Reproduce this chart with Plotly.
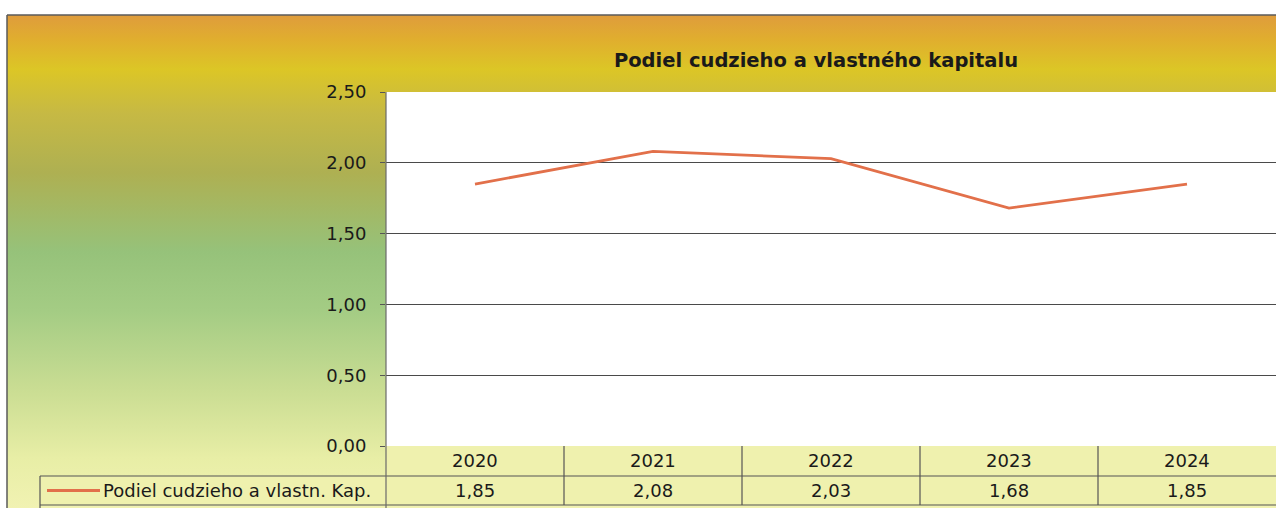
import base64
import plotly.graph_objects as go

# data
years = ["2020", "2021", "2022", "2023", "2024"]
ratio = [1.85, 2.08, 2.03, 1.68, 1.85]
series_name = "Podiel cudzieho a vlastn. Kap."
title_text = "Podiel cudzieho a vlastného kapitalu"
y_ticks = [0, 0.5, 1.0, 1.5, 2.0, 2.5]

W, H = 1276, 508
L, R, T, B = 386, 0, 92, 62
PW, PH = W - L - R, H - T - B


def px(x):
    return (x - L) / PW


def py(y):
    return (H - B - y) / PH


LINE_COL = "#E2704A"
GRID_COL = "#4a4a4a"
TABLE_BG = "#EFF1AE"
FONT = "DejaVu Sans, Verdana, sans-serif"

# background gradient of the chart area (Excel style)
svg = """<svg xmlns='http://www.w3.org/2000/svg' width='100' height='100' preserveAspectRatio='none'>
<defs><linearGradient id='g' x1='0' y1='0' x2='0' y2='1'>
<stop offset='0' stop-color='#DF9C3C'/>
<stop offset='0.05' stop-color='#E0AE2E'/>
<stop offset='0.11' stop-color='#DCC626'/>
<stop offset='0.20' stop-color='#C6B944'/>
<stop offset='0.32' stop-color='#AEB052'/>
<stop offset='0.48' stop-color='#96C27A'/>
<stop offset='0.60' stop-color='#A4CC84'/>
<stop offset='0.77' stop-color='#CCDE94'/>
<stop offset='0.90' stop-color='#E8EEA6'/>
<stop offset='1' stop-color='#F1F2B2'/>
</linearGradient></defs>
<rect width='100' height='100' fill='url(#g)'/></svg>"""
bg_src = "data:image/svg+xml;base64," + base64.b64encode(svg.encode()).decode()

fig = go.Figure()

fig.add_trace(go.Scatter(
    x=list(range(len(years))),
    y=ratio,
    mode="lines",
    name=series_name,
    line=dict(color=LINE_COL, width=2.8),
    showlegend=False,
    cliponaxis=False,
))

shapes = []
annotations = []

# white plot area on top of the gradient
shapes.append(dict(type="rect", xref="paper", yref="paper", layer="below",
                   x0=0, x1=1, y0=0, y1=1,
                   fillcolor="white", line=dict(width=0)))

# outer frame
shapes.append(dict(type="line", xref="paper", yref="paper",
                   x0=px(7), x1=px(W), y0=py(15), y1=py(15),
                   line=dict(color="#5a5a5a", width=1.5)))
shapes.append(dict(type="line", xref="paper", yref="paper",
                   x0=px(7), x1=px(7), y0=py(15), y1=py(H),
                   line=dict(color="#5a5a5a", width=1.5)))

# data table below the plot
row1, row2 = py(476), py(505)
shapes.append(dict(type="rect", xref="paper", yref="paper", layer="below",
                   x0=0, x1=1, y0=row2, y1=0,
                   fillcolor=TABLE_BG, line=dict(width=0)))
shapes.append(dict(type="rect", xref="paper", yref="paper", layer="below",
                   x0=px(40), x1=0, y0=row2, y1=row1,
                   fillcolor=TABLE_BG, line=dict(width=0)))
for y0 in (row1, row2):
    shapes.append(dict(type="line", xref="paper", yref="paper",
                       x0=px(40), x1=1, y0=y0, y1=y0,
                       line=dict(color="#555555", width=1.2)))
shapes.append(dict(type="line", xref="paper", yref="paper",
                   x0=px(40), x1=px(40), y0=row1, y1=py(H),
                   line=dict(color="#555555", width=1.2)))
shapes.append(dict(type="line", xref="paper", yref="paper",
                   x0=0, x1=0, y0=1, y1=py(H),
                   line=dict(color="#6a6a6a", width=1.2)))
for i in range(len(years) - 1):
    shapes.append(dict(type="line", xref="x", yref="paper",
                       x0=i + 0.5, x1=i + 0.5, y0=0, y1=row2,
                       line=dict(color="#555555", width=1.2)))

for i, (yr, v) in enumerate(zip(years, ratio)):
    annotations.append(dict(xref="x", yref="paper", x=i, y=(0 + row1) / 2,
                            text=yr, showarrow=False, yanchor="middle",
                            font=dict(family=FONT, size=18, color="#1a1a1a")))
    annotations.append(dict(xref="x", yref="paper", x=i, y=(row1 + row2) / 2,
                            text=f"{v:.2f}".replace(".", ","), showarrow=False,
                            yanchor="middle",
                            font=dict(family=FONT, size=18, color="#1a1a1a")))

# legend key in the table
shapes.append(dict(type="line", xref="paper", yref="paper",
                   x0=px(47), x1=px(100), y0=(row1 + row2) / 2, y1=(row1 + row2) / 2,
                   line=dict(color=LINE_COL, width=2.8)))
annotations.append(dict(xref="paper", yref="paper", x=px(101), y=(row1 + row2) / 2,
                        text=series_name, showarrow=False, xanchor="left",
                        yanchor="middle",
                        font=dict(family=FONT, size=18, color="#1a1a1a")))

fig.update_layout(
    width=W, height=H,
    margin=dict(l=L, r=R, t=T, b=B),
    paper_bgcolor="white",
    plot_bgcolor="white",
    separators=", ",
    title=dict(text=f"<b>{title_text}</b>", x=816 / W, xanchor="center",
               y=1 - 60 / H, yanchor="middle",
               font=dict(family=FONT, size=19.5, color="#1a1a1a")),
    xaxis=dict(range=[-0.5, len(years) - 0.5], showticklabels=False,
               showgrid=False, zeroline=False, ticks=""),
    yaxis=dict(range=[0, 2.5], tickvals=y_ticks, tickformat=".2f",
               showgrid=True, gridcolor=GRID_COL, gridwidth=1,
               zeroline=False, showline=False, ticks="outside", ticklen=5,
               tickcolor="#555555", ticklabelstandoff=10,
               tickfont=dict(family=FONT, size=18, color="#1a1a1a")),
    images=[dict(source=bg_src, xref="paper", yref="paper",
                 x=px(7), y=py(15), sizex=(W - 7) / PW, sizey=(H - 15) / PH,
                 sizing="stretch", xanchor="left", yanchor="top", layer="below")],
    shapes=shapes,
    annotations=annotations,
    showlegend=False,
)

fig.write_html("out.html", config={"displayModeBar": False},
               post_script="document.body.style.margin='0';")
